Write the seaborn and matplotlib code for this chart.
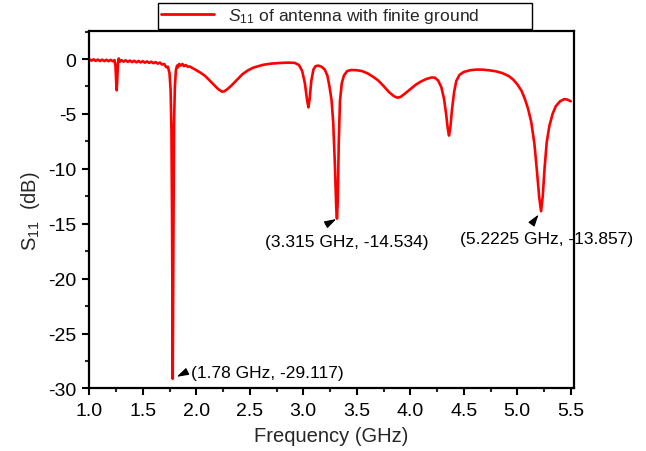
import numpy as np
import pandas as pd
import matplotlib
matplotlib.use("Agg")
import matplotlib.pyplot as plt
import seaborn as sns
from matplotlib.ticker import MultipleLocator

# Reflection coefficient of the antenna with a finite ground plane
freq_ghz = [
    1.000, 1.020, 1.040, 1.060, 1.080, 1.100, 1.120, 1.140, 1.160, 1.180,
    1.200, 1.220, 1.235, 1.245, 1.252, 1.256, 1.261, 1.268, 1.275, 1.285,
    1.300, 1.320, 1.340, 1.360, 1.380, 1.400, 1.420, 1.440, 1.460, 1.480,
    1.500, 1.520, 1.540, 1.560, 1.580, 1.600, 1.620, 1.640, 1.660, 1.680,
    1.700, 1.720, 1.735, 1.750, 1.760, 1.768, 1.774, 1.778, 1.780, 1.782,
    1.786, 1.792, 1.800, 1.810, 1.820, 1.830, 1.840, 1.855, 1.870, 1.885,
    1.900, 1.920, 1.940, 1.960, 1.980, 2.000, 2.040, 2.080, 2.120, 2.160,
    2.200, 2.240, 2.260, 2.290, 2.330, 2.380, 2.430, 2.480, 2.530, 2.580,
    2.630, 2.700, 2.780, 2.860, 2.920, 2.960, 2.990, 3.015, 3.035, 3.048,
    3.060, 3.075, 3.095, 3.115, 3.140, 3.170, 3.200, 3.225, 3.245, 3.265,
    3.280, 3.295, 3.308, 3.315, 3.322, 3.332, 3.343, 3.360, 3.380, 3.410,
    3.450, 3.500, 3.550, 3.600, 3.650, 3.700, 3.750, 3.800, 3.850, 3.880,
    3.910, 3.950, 4.000, 4.050, 4.100, 4.150, 4.200, 4.230, 4.260, 4.290,
    4.315, 4.335, 4.350, 4.362, 4.375, 4.390, 4.410, 4.430, 4.460, 4.500,
    4.560, 4.620, 4.680, 4.740, 4.800, 4.860, 4.920, 4.960, 5.000, 5.040,
    5.070, 5.100, 5.130, 5.160, 5.185, 5.205, 5.2225, 5.238, 5.255, 5.275,
    5.300, 5.330, 5.360, 5.400, 5.440, 5.470, 5.500,
]
s11_db = [
    -0.02, -0.15, -0.03, -0.17, -0.05, -0.18, -0.06, -0.19, -0.07, -0.20,
    -0.08, -0.20, -0.10, -0.60, -2.20, -2.85, -2.00, -0.40, 0.05, -0.25,
    -0.10, -0.24, -0.12, -0.26, -0.14, -0.28, -0.16, -0.30, -0.18, -0.31,
    -0.20, -0.33, -0.22, -0.35, -0.25, -0.38, -0.28, -0.42, -0.33, -0.50,
    -0.45, -0.75, -0.70, -1.30, -2.80, -6.50, -15.0, -25.0, -29.117, -25.0,
    -15.0, -6.00, -2.50, -1.00, -0.60, -0.75, -0.45, -0.60, -0.45, -0.65,
    -0.55, -0.70, -0.68, -0.80, -0.90, -1.02, -1.25, -1.52, -1.90, -2.30,
    -2.70, -2.97, -2.95, -2.75, -2.40, -1.90, -1.40, -1.05, -0.80, -0.65,
    -0.52, -0.42, -0.36, -0.33, -0.35, -0.55, -1.10, -2.20, -3.70, -4.40,
    -3.60, -2.00, -0.95, -0.65, -0.60, -0.70, -0.95, -1.50, -2.50, -3.80,
    -5.80, -9.50, -13.5, -14.534, -13.0, -7.50, -3.80, -2.20, -1.50, -1.10,
    -1.00, -1.02, -1.10, -1.30, -1.60, -1.95, -2.45, -3.00, -3.40, -3.52,
    -3.45, -3.15, -2.75, -2.35, -2.05, -1.82, -1.68, -1.70, -1.95, -2.55,
    -3.60, -5.00, -6.30, -6.97, -6.20, -4.60, -3.00, -2.00, -1.45, -1.18,
    -1.02, -0.96, -0.97, -1.03, -1.12, -1.28, -1.55, -1.85, -2.30, -2.90,
    -3.60, -4.50, -5.70, -7.70, -10.3, -12.6, -13.857, -12.5, -10.0, -7.60,
    -6.10, -5.00, -4.30, -3.85, -3.65, -3.70, -3.85,
]

# Marked resonances: (frequency, S11, label offset in points, arrow tail offset in points)
marker_freq = [1.78, 3.315, 5.2225]
marker_s11 = [-29.117, -14.534, -13.857]
marker_text = ["(1.78 GHz, -29.117)", "(3.315 GHz, -14.534)", "(5.2225 GHz, -13.857)"]
label_offsets = [(13.5, 4.6), (6.7, -16.5), (3.6, -20.0)]
label_ha = ["left", "center", "center"]
arrow_tails = [(10.0, 5.0), (-7.9, -4.3), (-5.8, -7.9)]
arrow_shrink = [3.2, 0.5, 3.0]

sns.set_style("ticks")
plt.rcParams["font.family"] = ["Liberation Sans", "DejaVu Sans"]
plt.rcParams["mathtext.fontset"] = "custom"
plt.rcParams["mathtext.rm"] = "Liberation Sans"
plt.rcParams["mathtext.it"] = "Liberation Sans:italic"
plt.rcParams["axes.unicode_minus"] = False

df = pd.DataFrame({"Frequency (GHz)": freq_ghz, "S11 (dB)": s11_db})

fig = plt.figure(figsize=(6.46, 4.52), dpi=100)
ax = fig.add_axes([0.1382, 0.1383, 0.7503, 0.7909])

sns.lineplot(data=df, x="Frequency (GHz)", y="S11 (dB)", ax=ax, color="#ff0000",
             linewidth=1.9, sort=False,
             label="$S_{11}$ of antenna with finite ground" + "\u00a0" * 11)

ax.set_xlim(1.0, 5.53)
ax.set_ylim(-30, 2.55)
ax.xaxis.set_major_locator(MultipleLocator(0.5))
ax.xaxis.set_minor_locator(MultipleLocator(0.25))
ax.yaxis.set_major_locator(MultipleLocator(5))
ax.yaxis.set_minor_locator(MultipleLocator(2.5))
ax.xaxis.set_major_formatter(matplotlib.ticker.FormatStrFormatter("%.1f"))

for side in ["left", "right", "top", "bottom"]:
    ax.spines[side].set_visible(True)
    ax.spines[side].set_linewidth(1.6)
    ax.spines[side].set_color("black")

ax.tick_params(axis="both", which="major", direction="out", length=5, width=1.5,
               labelsize=14, pad=4.5, colors="black")
ax.tick_params(axis="both", which="minor", direction="out", length=3, width=1.5)
ax.tick_params(top=False, right=False, which="both")

ax.set_xlabel("Frequency (GHz)", fontsize=14.5, labelpad=5)
ax.set_ylabel("$\\mathrm{S}_{11}$  (dB)", fontsize=14.5, labelpad=4)

for f, s, txt, off, ha, tail, shr in zip(marker_freq, marker_s11, marker_text,
                                          label_offsets, label_ha, arrow_tails, arrow_shrink):
    ax.annotate(txt, xy=(f, s), xytext=off, textcoords="offset points",
                ha=ha, va="center", fontsize=12.5, color="black", zorder=2)
    ax.annotate("", xy=(f, s), xytext=tail, textcoords="offset points",
                arrowprops=dict(arrowstyle="-|>,head_length=0.7,head_width=0.22",
                                color="black", lw=0.9, shrinkA=0, shrinkB=shr,
                                mutation_scale=10),
                zorder=2, annotation_clip=False)

leg = ax.legend(loc="lower center", bbox_to_anchor=(0.5275, 1.006), borderaxespad=0,
                frameon=True, fancybox=False, framealpha=1, edgecolor="black",
                fontsize=12.6, handlelength=3.0, handletextpad=0.8, borderpad=0.2)
leg.get_frame().set_linewidth(1.0)
for line in leg.get_lines():
    line.set_linewidth(2.0)

fig.savefig("out.png", dpi=100)
